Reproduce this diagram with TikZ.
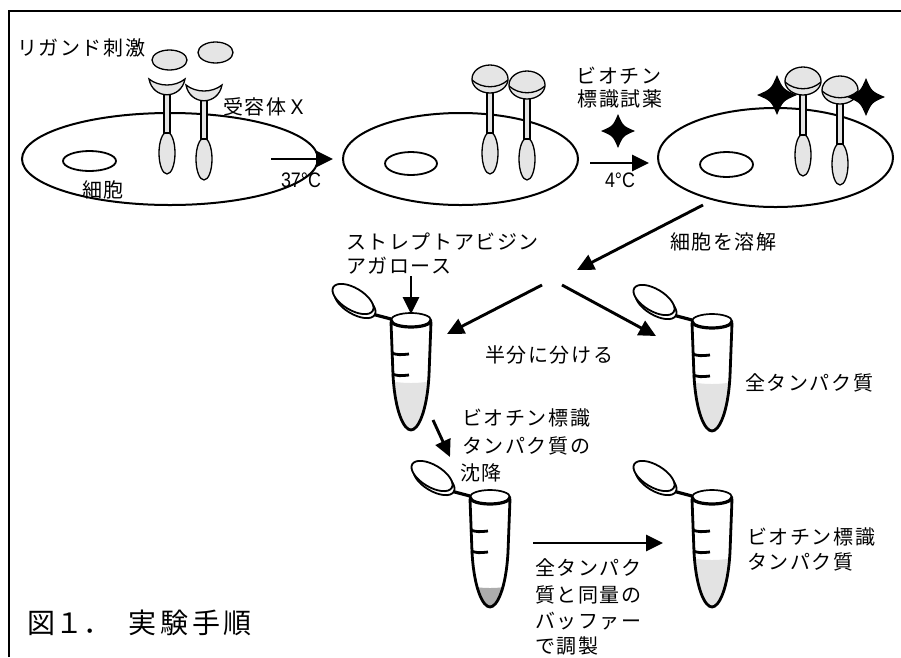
\documentclass[tikz,border=0pt]{standalone}
\usepackage{fontspec}
\usetikzlibrary{arrows.meta}
\newfontfamily\jp[LetterSpace=8]{Noto Sans CJK JP}
\newfontfamily\jpcap[LetterSpace=14]{Noto Sans CJK JP}
\newfontfamily\jpplain{Noto Sans CJK JP}
\newfontfamily\narrow[FakeStretch=0.85]{Liberation Sans}

\tikzset{
  lbl/.style={font=\jp\fontsize{20}{26}\selectfont, inner sep=0pt, anchor=west},
  temp/.style={font=\narrow\fontsize{21}{24}\selectfont, inner sep=0pt},
  capt/.style={font=\jpplain\fontsize{28}{32}\selectfont, inner sep=0pt, anchor=west},
  captb/.style={font=\jpcap\fontsize{28}{32}\selectfont, inner sep=0pt, anchor=west},
  flow/.style={line width=2.9pt, -{Triangle[length=17pt,width=16pt]}},
  membrane/.style={line width=2pt},
  nucleus/.style={line width=1.8pt},
  stip/.style={fill=gray!20, draw=black, line width=1.3pt},
  liquid/.style={fill=gray!22},
  pellet/.style={fill=gray!65},
  % receptor without ligand: cup, stem and intracellular body
  pics/freerec/.style={code={
    \filldraw[stip] (0,74) ellipse[x radius=8, y radius=21];
    \filldraw[stip] (-3,12) rectangle (3,54);
    \filldraw[stip] (-18,0) .. controls (-14,21) and (14,21) .. (18,0)
                    .. controls (8,8) and (-8,8) .. cycle;
  }},
  % receptor holding its ligand
  pics/boundrec/.style={code={
    \filldraw[stip] (0,74) ellipse[x radius=8, y radius=21];
    \filldraw[stip] (-3,12) rectangle (3,54);
    \filldraw[stip] (0,0) ellipse[x radius=18, y radius=14];
    \draw[line width=1.3pt] (-18,1) .. controls (-8,10) and (8,10) .. (18,1);
  }},
  % four-pointed biotin label
  pics/biostar/.style={code={
    \fill (0,-#1) .. controls (0.3*#1,-0.3*#1) .. (#1,0)
          .. controls (0.3*#1,0.3*#1) .. (0,#1)
          .. controls (-0.3*#1,0.3*#1) .. (-#1,0)
          .. controls (-0.3*#1,-0.3*#1) .. cycle;
  }},
  % microtube: #1 = level of the contents, #2 = fill style of the contents
  pics/tube/.style 2 args={code={
    \begin{scope}
      \clip (-20,2) -- (-18,55) .. controls (-16,92) and (-7,110) .. (0,110)
            .. controls (7,110) and (16,92) .. (18,55) -- (20,2) -- cycle;
      \fill[#2] (-25,#1) .. controls (-10,#1+4) and (10,#1+4) .. (25,#1)
            -- (25,115) -- (-25,115) -- cycle;
    \end{scope}
    \draw[line width=2.8pt, line join=round] (-20,2) -- (-18,55)
          .. controls (-16,92) and (-7,110) .. (0,110)
          .. controls (7,110) and (16,92) .. (18,55) -- (20,2);
    \draw[line width=2.8pt] (-20,33) .. controls (-12,35) .. (-2,34);
    \draw[line width=2.8pt] (-19,54) .. controls (-12,56) .. (-2,55);
    \draw[line width=3.2pt] (-39,-6) .. controls (-30,-3) .. (-20,-1);
    \filldraw[fill=white, line width=1.8pt, shift={(-56,-17)}, rotate=-31]
          (0,0) ellipse[x radius=23, y radius=11];
    \filldraw[fill=white, line width=1.8pt, shift={(-58,-21)}, rotate=-31]
          (0,0) ellipse[x radius=23, y radius=11];
    \filldraw[fill=white, line width=1.7pt] (0,0) ellipse[x radius=20, y radius=7];
    \draw[line width=3.2pt] (-20,0) .. controls (-20,9.3) and (20,9.3) .. (20,0);
  }}
}

\begin{document}
\begin{tikzpicture}[x=1pt, y=-1pt]
\useasboundingbox (0,0) rectangle (901,657);
\fill[white] (0,0) rectangle (901,657);

% frame
\draw[line width=1.6pt] (9,657) -- (9,11) -- (901,11);

% ---- cell 1: ligand stimulation ----
\draw[membrane] (170,159) ellipse[x radius=148, y radius=46];
\draw[nucleus] (89.5,161) ellipse[x radius=26.5, y radius=10];
\pic at (167,79) {freerec};
\pic at (204,85) {freerec};
\filldraw[stip] (169.5,60) ellipse[x radius=17.5, y radius=10];
\filldraw[stip] (215.5,52.5) ellipse[x radius=17.5, y radius=10.5];

% ---- cell 2: ligand bound ----
\draw[membrane] (460.5,159) ellipse[x radius=117.5, y radius=46];
\draw[nucleus] (411,163.5) ellipse[x radius=26, y radius=11.5];
\pic at (490,79) {boundrec};
\pic at (527,85) {boundrec};

% ---- cell 3: biotin labelled ----
\draw[membrane] (775.5,157.5) ellipse[x radius=117.5, y radius=49.5];
\draw[nucleus] (726.5,164.5) ellipse[x radius=26.5, y radius=12.5];
\pic at (803,81) {boundrec};
\pic at (840,90) {boundrec};
\pic at (777,95) {biostar=20};
\pic at (866,97) {biostar=19};

% biotin reagent
\pic at (618,131) {biostar=17};

% ---- tubes ----
\pic (tubeA) at (411,320) {tube={60}{liquid}};
\pic (tubeB) at (712,321) {tube={60}{liquid}};
\pic (tubeC) at (490,497) {tube={88}{pellet}};
\pic (tubeD) at (712,497) {tube={60}{liquid}};

% ---- labels ----
\node[lbl] (ligand) at (17,48) {リガンド刺激};
\node[lbl] (recx) at (223,107) {受容体Ｘ};
\node[lbl] (cell) at (82,190) {細胞};
\node[temp] (t37) at (301,180) {37°C};
\node[lbl, anchor=center] (bio1) at (619,76) {ビオチン};
\node[lbl, anchor=center] (bio2) at (620,99) {標識試薬};
\node[temp] (t4) at (620,180) {4°C};
\node[lbl] (lyse) at (670,242) {細胞を溶解};
\node[lbl] (sa1) at (346,242) {ストレプトアビジン};
\node[lbl] (sa2) at (346,266) {アガロース};
\node[lbl] (half) at (485,355) {半分に分ける};
\node[lbl] (total) at (745,383) {全タンパク質};
\node[lbl] (pd1) at (462,418) {ビオチン標識};
\node[lbl] (pd2) at (462,446) {タンパク質の};
\node[lbl] (pd3) at (460,473) {沈降};
\node[lbl] (buf1) at (535,568) {全タンパク};
\node[lbl] (buf2) at (535,595) {質と同量の};
\node[lbl] (buf3) at (535,621) {バッファー};
\node[lbl] (buf4) at (535,646) {で調製};
\node[lbl] (bl1) at (747,537) {ビオチン標識};
\node[lbl] (bl2) at (747,562) {タンパク質};
\node[capt] (fig) at (27,623) {図１．};
\node[captb] (title) at (128,623) {実験手順};

% ---- arrows ----
\coordinate (c1out) at (271,159);  \coordinate (c2in) at (333,159);
\coordinate (c2out) at (590,163);  \coordinate (c3in) at (649,163);
\coordinate (c3out) at (703,205);  \coordinate (lysate) at (577,270);
\coordinate (splitL) at (542,285); \coordinate (tubeAin) at (447,334);
\coordinate (splitR) at (562,285); \coordinate (tubeBin) at (656,336);
\coordinate (beads) at (411,276);  \coordinate (tubeAtop) at (411,314);
\coordinate (tubeAout) at (433,420); \coordinate (tubeCin) at (450,457);
\coordinate (tubeCout) at (533,543); \coordinate (tubeDin) at (663,543);

\draw[flow] (c1out) -- (c2in);
\draw[flow] (c2out) -- (c3in);
\draw[flow] (c3out) -- (lysate);
\draw[flow] (splitL) -- (tubeAin);
\draw[flow] (splitR) -- (tubeBin);
\draw[flow] (beads) -- (tubeAtop);
\draw[flow] (tubeAout) -- (tubeCin);
\draw[flow] (tubeCout) -- (tubeDin);
\end{tikzpicture}
\end{document}
